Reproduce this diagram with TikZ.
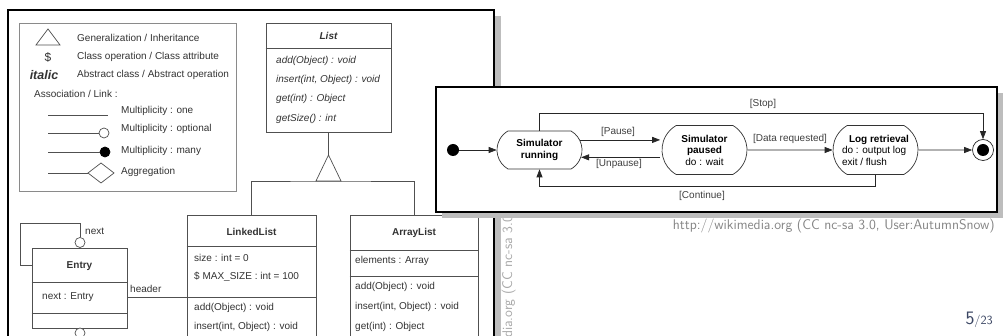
\documentclass[tikz,border=0pt]{standalone}
\usepackage{fontspec}
\newfontfamily\arial{Liberation Sans}
\usetikzlibrary{arrows.meta,shapes.misc}
\definecolor{umlline}{HTML}{505050}
\definecolor{umltext}{HTML}{333333}
\definecolor{legline}{HTML}{8A8A8A}
\definecolor{shadowgray}{HTML}{BDBDBD}
\definecolor{pagecol}{HTML}{3B4663}
\definecolor{attrib}{HTML}{858585}
\definecolor{vattrib}{HTML}{A8A8A8}
\begin{document}
\begin{tikzpicture}[x=1pt,y=-1pt,
  ct/.style={font=\arial\fontsize{10}{12}\selectfont, text=umltext, inner sep=0pt, anchor=west},
  cti/.style={ct, font=\arial\itshape\fontsize{10}{12}\selectfont},
  ctb/.style={ct, anchor=center, font=\arial\bfseries\fontsize{10}{12}\selectfont},
  umlbox/.style={draw=umlline, line width=0.7pt, fill=white, inner sep=0pt},
  uline/.style={draw=umlline, line width=0.7pt},
  mult/.style={circle, draw=umlline, line width=0.7pt, fill=white, minimum size=10pt, inner sep=0pt},
  stbox/.style={rounded rectangle, rounded rectangle arc length=120, draw=black!80, line width=0.7pt, fill=white, align=center, inner sep=0pt, font=\arial\fontsize{10}{11.5}\selectfont},
  sarr/.style={-{Triangle[length=8pt,width=6pt]}, line width=0.7pt, draw=black!85},
  lbl/.style={font=\arial\fontsize{10}{12}\selectfont, text=black!75, inner sep=0pt},
]
\useasboundingbox (0,0) rectangle (1003,336);
\clip (0,0) rectangle (1003,336);

% ---------- class diagram ----------
\fill[shadowgray] (494,16) rectangle (501,340);
\draw[line width=1.2pt, fill=white] (8,10) rectangle (494,345);

% legend
\node[draw=legline, line width=0.8pt, minimum width=217pt, minimum height=168pt, inner sep=0pt] (legend) at (127.5,107) {};
\draw[uline] (36,45) -- (48,29) -- (60,45) -- cycle;
\node[ct, anchor=center, font=\arial\fontsize{12}{14}\selectfont] (dollar) at (48,57) {\$};
\node[ct, anchor=center, font=\arial\bfseries\itshape\fontsize{12.5}{14}\selectfont] (ital) at (44,75) {italic};
\node[ct] (d1) at (77,38) {Generalization / Inheritance};
\node[ct] (d2) at (77,57) {Class operation / Class attribute};
\node[ct] (d3) at (77,75) {Abstract class / Abstract operation};
\node[ct] (assoc) at (34,94) {Association / Link :};
\coordinate (l1a) at (48,115);
\coordinate (l1b) at (108,115);
\draw[uline] (l1a) -- (l1b);
\node[ct] (m1) at (121,111) {Multiplicity : one};
\node[mult] (optc) at (104,133) {};
\coordinate (l2a) at (48,133);
\draw[uline] (l2a) -- (optc);
\node[ct] (m2) at (121,129) {Multiplicity : optional};
\node[mult, fill=black, draw=black] (manyc) at (105,152) {};
\coordinate (l3a) at (48,152);
\draw[uline] (l3a) -- (manyc);
\node[ct] (m3) at (121,151) {Multiplicity : many};
\coordinate (agg) at (88,173);
\coordinate (l4a) at (48,173);
\draw[uline] (l4a) -- (agg);
\draw[uline, fill=white] (agg) -- (101,163) -- (114,173) -- (101,183) -- cycle;
\node[ct] (m4) at (121,172) {Aggregation};

% List
\node[umlbox, minimum width=125pt, minimum height=109pt] (list) at (328.5,77.5) {};
\draw[uline] (list.west |- 0,48) -- (list.east |- 0,48);
\node[ctb, font=\arial\bfseries\itshape\fontsize{10}{12}\selectfont] (listt) at (328.5,36) {List};
\node[cti] (lo1) at (276,61) {add(Object) : void};
\node[cti] (lo2) at (276,80) {insert(int, Object) : void};
\node[cti] (lo3) at (276,99) {get(int) : Object};
\node[cti] (lo4) at (276,119) {getSize() : int};

% LinkedList
\node[umlbox, minimum width=129pt, minimum height=130pt] (linked) at (251.5,280) {};
\draw[uline] (linked.west |- 0,246) -- (linked.east |- 0,246);
\draw[uline] (linked.west |- 0,297) -- (linked.east |- 0,297);
\node[ctb] (linkedt) at (251.5,232) {LinkedList};
\node[ct] (la1) at (194,258) {size : int = 0};
\node[ct] (la2) at (194,277) {\$ MAX\_SIZE : int = 100};
\node[ct] (lm1) at (194,308) {add(Object) : void};
\node[ct] (lm2) at (194,327) {insert(int, Object) : void};

% ArrayList
\node[umlbox, minimum width=128pt, minimum height=130pt] (array) at (414,280) {};
\draw[uline] (array.west |- 0,250) -- (array.east |- 0,250);
\draw[uline] (array.west |- 0,276) -- (array.east |- 0,276);
\node[ctb] (arrayt) at (414,233) {ArrayList};
\node[ct] (aa1) at (355,261) {elements : Array};
\node[ct] (am1) at (355,287) {add(Object) : void};
\node[ct] (am2) at (355,307) {insert(int, Object) : void};
\node[ct] (am3) at (355,327) {get(int) : Object};

% generalization
\coordinate (gtip) at (328.5,155);
\coordinate (gbase) at (328.5,181);
\draw[uline] (list.south) -- (gtip);
\draw[uline] (linked.north) |- (gbase) -| (array.north);
\draw[uline, fill=white] (gtip) -- (316,181) -- (341,181) -- cycle;

% Entry
\node[umlbox, minimum width=95pt, minimum height=80pt] (entry) at (79.5,288) {};
\draw[uline] (entry.west |- 0,282) -- (entry.east |- 0,282);
\draw[uline] (entry.west |- 0,313) -- (entry.east |- 0,313);
\node[ctb] (entryt) at (79.5,266) {Entry};
\node[ct] (ea1) at (42,297) {next : Entry};
\node[mult] (nextc) at (80,242.5) {};
\draw[uline] (entry.west |- 0,265) -| (20,223) -| (nextc.north);
\node[ct] (nextl) at (85,231) {next};
\node[mult] (belowc) at (80,333) {};
\draw[uline] (entry.east |- 0,297) -- (linked.west |- 0,297);
\node[ct] (headl) at (130,289) {header};

% rotated attribution (class diagram)
\node[rotate=90, anchor=base west, inner sep=0pt, font=\sffamily\fontsize{14}{16}\selectfont, text=vattrib] (vattr) at (512,419) {http://wikimedia.org (CC nc-sa 3.0, User:AutumnSnow)};

% ---------- state diagram ----------
\fill[shadowgray] (442,93) rectangle (1003,218);
\draw[line width=1.3pt, fill=white] (436,87) rectangle (997,212);

\node[circle, fill=black, minimum size=12pt, inner sep=0pt] (init) at (453,150) {};
\node[stbox, minimum width=85pt, minimum height=38pt] (run) at (539.5,150) {\textbf{Simulator}\\\textbf{running}};
\node[stbox, minimum width=85pt, minimum height=49pt] (paused) at (704.5,150) {\textbf{Simulator}\\\textbf{paused}\\do : wait};
\node[stbox, align=left, minimum width=85pt, minimum height=49pt] (log) at (875.5,150) {\hspace*{7pt}\textbf{Log retrieval}\\do : output log\\exit / flush};
\node[circle, draw=black!85, line width=0.7pt, fill=white, minimum size=21pt, inner sep=0pt] (final) at (983,150) {};
\node[circle, fill=black, minimum size=12pt, inner sep=0pt] (finalin) at (final.center) {};

\draw[sarr] (init) -- (run);
\draw[sarr, shorten >=1.5pt] (run.14) -- (run.14 -| paused.west);
\node[lbl] (pausel) at (618,132) {[Pause]};
\draw[sarr, shorten <=1.5pt] (run.-10 -| paused.west) -- (run.-10);
\node[lbl] (unpausel) at (619,164) {[Unpause]};
\draw[sarr] (paused) -- (log);
\node[lbl] (datal) at (790,139) {[Data requested]};
\draw[sarr] (log) -- (final);
\draw[sarr] (run.north) -- (run.north |- 0,113) -| (final.north);
\node[lbl] (stopl) at (763,104) {[Stop]};
\draw[sarr] (log.south) |- (run.south |- 0,186) -- (run.south);
\node[lbl] (contl) at (702,196) {[Continue]};

% ---------- slide texts ----------
\node[anchor=base east, inner sep=0pt, font=\sffamily\fontsize{14}{16}\selectfont, text=attrib] (attr) at (995,230) {http://wikimedia.org (CC nc-sa 3.0, User:AutumnSnow)};
\node[anchor=base east, inner sep=0pt, text=pagecol, font=\sffamily] (page) at (993,324) {{\fontsize{19}{20}\selectfont 5}{\fontsize{12.5}{14}\selectfont /23}};
\end{tikzpicture}
\end{document}
